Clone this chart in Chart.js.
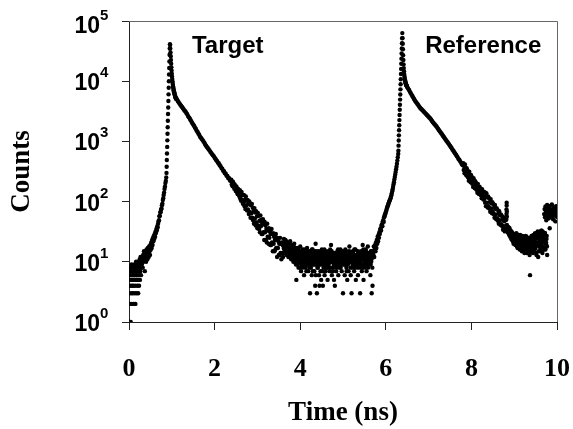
<!DOCTYPE html>
<html>
<head>
<meta charset="utf-8">
<script src="https://cdn.jsdelivr.net/npm/chart.js@4.4.0/dist/chart.umd.min.js"></script>
<style>
  html, body { margin: 0; padding: 0; background: #fff; }
</style>
</head>
<body>
<canvas id="chart" width="573" height="429"></canvas>
<script>
// TCSPC histogram: [time (ns), counts]
const preRise = [
  [0.000,3],[0.005,6],[0.010,1],[0.015,5],[0.020,2],[0.025,7],[0.030,4],[0.035,8],[0.040,1],[0.045,6],
  [0.050,3],[0.055,5],[0.060,9],[0.065,2],[0.070,4],[0.075,7],[0.080,6],[0.085,3],[0.090,5],[0.095,8],
  [0.100,4],[0.105,6],[0.110,2],[0.115,7],[0.120,5],[0.125,9],[0.130,3],[0.135,6],[0.140,8],[0.145,4],
  [0.150,2],[0.155,7],[0.160,5],[0.165,10],[0.170,6],[0.175,3],[0.180,8],[0.185,5],[0.190,7],[0.195,4],
  [0.200,6],[0.205,9],[0.210,5],[0.215,3],[0.220,8],[0.225,7],[0.230,10],[0.235,4],[0.240,6],[0.245,9],
  [0.250,11],[0.255,5],[0.260,8],[0.265,7],[0.270,12],[0.275,9],[0.280,6],[0.285,10],[0.290,8],[0.295,11]
];
const targetRise = [
  [0.30,9],[0.31,12],[0.32,8],[0.33,13],[0.34,10],[0.35,15],[0.36,11],[0.37,7],[0.38,14],[0.39,12],
  [0.40,10],[0.41,16],[0.42,13],[0.43,11],[0.44,17],[0.45,14],[0.46,12],[0.47,18],[0.48,15],[0.49,13],
  [0.50,19],[0.51,16],[0.52,21],[0.53,17],[0.54,23],[0.55,19],[0.56,25],[0.57,22],[0.58,27],[0.59,24],
  [0.60,29],[0.61,26],[0.62,32],[0.63,30],[0.64,35],[0.65,33],[0.66,39],[0.67,37],[0.68,43],[0.69,47],
  [0.70,49],[0.71,57],[0.72,58],[0.73,66],[0.74,67],[0.75,74],[0.76,77],[0.77,87],[0.78,92],[0.79,106],
  [0.80,114],[0.81,129],[0.82,141],[0.83,162],[0.84,179],[0.85,203],[0.86,220],[0.87,251]
];
const targetEdge = [
  [0.876,300],[0.880,380],[0.884,490],[0.888,630],[0.892,810],[0.896,1040],[0.900,1340],[0.904,1720],
  [0.908,2200],[0.912,2850],[0.916,3650],[0.920,4700],[0.924,6050],[0.928,7800],[0.932,10000],
  [0.936,12900],[0.940,16600],[0.944,21300],[0.948,27500],[0.952,35000],[0.956,41000]
];
const targetPeak = [
  [0.960,40000],[0.965,35000],[0.970,30000],[0.975,26000],[0.980,22500],[0.985,19500],[0.990,17000],
  [0.995,15000],[1.000,13300],[1.005,12000],[1.010,10900],[1.015,10000],[1.020,9300],[1.025,8700],
  [1.030,8200],[1.035,7800],[1.040,7400],[1.045,7100],[1.050,6800],[1.055,6550],[1.060,6300],
  [1.065,6100],[1.070,5900],[1.075,5750],[1.080,5600],[1.085,5450],[1.090,5300],[1.095,5200],[1.100,5050]
];
const targetDecay = [
  [1.12,5010],[1.14,4680],[1.16,4470],[1.18,4270],[1.20,4070],[1.22,3890],[1.24,3720],[1.26,3550],[1.28,3390],[1.30,3240],
  [1.32,3130],[1.34,2950],[1.36,2820],[1.38,2630],[1.40,2510],[1.42,2400],[1.44,2240],[1.46,2140],[1.48,2000],[1.50,1905],
  [1.52,1820],[1.54,1700],[1.56,1620],[1.58,1510],[1.60,1445],[1.62,1350],[1.64,1290],[1.66,1200],[1.68,1150],[1.70,1100],
  [1.72,1050],[1.74,1000],[1.76,955],[1.78,890],[1.80,850],[1.82,810],[1.84,775],[1.86,740],[1.88,710],[1.90,675],
  [1.92,645],[1.94,615],[1.96,590],[1.98,570],[2.00,535],[2.02,515],[2.04,485],[2.06,470],[2.08,441],[2.10,430],
  [2.12,402],[2.14,388],[2.16,360],[2.18,352],[2.20,325],[2.22,320],[2.24,296],[2.26,291],[2.28,268],[2.30,266],
  [2.32,245],[2.34,244],[2.36,224],[2.38,222]
];
const targetTail = [
  [2.39,231],[2.40,192],[2.41,210],[2.42,180],[2.43,214],[2.44,180],[2.45,197],[2.46,164],[2.47,192],[2.48,162],
  [2.49,177],[2.50,149],[2.51,178],[2.52,145],[2.53,164],[2.54,133],[2.55,163],[2.56,135],[2.57,148],[2.58,121],
  [2.59,155],[2.60,112],[2.61,135],[2.62,103],[2.63,145],[2.64,108],[2.65,129],[2.66,92],[2.67,129],[2.68,97],
  [2.69,128],[2.70,84],[2.71,107],[2.72,75],[2.73,122],[2.74,86],[2.75,104],[2.76,71],[2.77,107],[2.78,74],
  [2.79,94],[2.80,62],[2.81,101],[2.82,67],[2.83,89],[2.84,54],[2.85,88],[2.86,64],[2.87,91],[2.88,54],
  [2.89,79],[2.90,49],[2.91,69],[2.92,43],[2.93,78],[2.94,52],[2.95,66],[2.96,40],[2.97,69],[2.98,45],
  [2.99,57],[3.00,36],[3.01,65],[3.02,40],[3.03,58],[3.04,35],[3.05,48],[3.06,31],[3.07,59],[3.08,39],
  [3.09,50],[3.10,29],[3.11,44],[3.12,29],[3.13,51],[3.14,31],[3.15,42],[3.16,23],[3.17,46],[3.18,31],
  [3.19,40],[3.20,23],[3.21,35],[3.22,21],[3.23,43],[3.24,26],[3.25,33],[3.26,20],[3.27,36],[3.28,25],
  [3.29,32],[3.30,19],[3.31,29],[3.32,19],[3.33,35],[3.34,21],[3.35,29],[3.36,15],[3.37,30],[3.38,20],
  [3.39,26],[3.40,15],[3.41,23],[3.42,16],[3.43,29],[3.44,17],[3.45,24],[3.46,12],[3.47,25],[3.48,17],
  [3.49,22],[3.50,13],[3.51,20],[3.52,13],[3.53,25],[3.54,14],[3.55,20],[3.56,11],[3.57,21],[3.58,14],
  [3.59,19],[3.60,12]
];
const background = [
  [3.61,19],[3.62,24],[3.63,16],[3.64,21],[3.65,15],[3.66,18],[3.67,22],[3.68,14],[3.69,17],[3.70,20],
  [3.71,13],[3.72,17],[3.73,21],[3.74,15],[3.75,12],[3.76,18],[3.77,14],[3.78,16],[3.79,11],[3.80,19],
  [3.81,15],[3.82,12],[3.83,17],[3.84,10],[3.85,14],[3.86,20],[3.87,11],[3.88,16],[3.89,13],[3.90,9],
  [3.91,5],[3.92,14],[3.93,11],[3.94,17],[3.95,12],[3.96,8],[3.97,15],[3.98,10],[3.99,13],[4.00,18],
  [4.01,11],[4.02,7],[4.03,14],[4.04,10],[4.05,16],[4.06,12],[4.07,9],[4.08,13],[4.09,6],[4.10,15],
  [4.11,10],[4.12,12],[4.13,8],[4.14,14],[4.15,11],[4.16,17],[4.17,9],[4.18,12],[4.19,7],[4.20,13],
  [4.21,10],[4.22,15],[4.23,3],[4.24,11],[4.25,8],[4.26,13],[4.27,6],[4.28,12],[4.29,16],[4.30,9],
  [4.31,11],[4.32,14],[4.33,7],[4.34,10],[4.35,4],[4.36,20],[4.37,9],[4.38,15],[4.39,3],[4.40,11],
  [4.41,8],[4.42,13],[4.43,10],[4.44,6],[4.45,4],[4.46,12],[4.47,9],[4.48,14],[4.49,5],[4.50,11],
  [4.51,10],[4.52,7],[4.53,4],[4.54,13],[4.55,9],[4.56,12],[4.57,6],[4.58,11],[4.59,15],[4.60,8],
  [4.61,12],[4.62,9],[4.63,14],[4.64,5],[4.65,11],[4.66,8],[4.67,13],[4.68,10],[4.69,7],[4.70,16],
  [4.71,11],[4.72,19],[4.73,13],[4.74,6],[4.75,10],[4.76,14],[4.77,8],[4.78,12],[4.79,5],[4.80,11],
  [4.81,4],[4.82,10],[4.83,13],[4.84,7],[4.85,12],[4.86,9],[4.87,15],[4.88,11],[4.89,6],[4.90,10],
  [4.91,13],[4.92,8],[4.93,11],[4.94,16],[4.95,9],[4.96,12],[4.97,7],[4.98,10],[4.99,14],[5.00,3],
  [5.01,11],[5.02,9],[5.03,13],[5.04,6],[5.05,12],[5.06,10],[5.07,15],[5.08,8],[5.09,11],[5.10,5],
  [5.11,13],[5.12,10],[5.13,7],[5.14,12],[5.15,18],[5.16,14],[5.17,11],[5.18,6],[5.19,10],[5.20,3],
  [5.21,12],[5.22,8],[5.23,15],[5.24,10],[5.25,13],[5.26,7],[5.27,11],[5.28,9],[5.29,16],[5.30,5],
  [5.31,10],[5.32,13],[5.33,8],[5.34,12],[5.35,6],[5.36,14],[5.37,11],[5.38,9],[5.39,12],[5.40,3],
  [5.41,11],[5.42,15],[5.43,9],[5.44,7],[5.45,13],[5.46,19],[5.47,12],[5.48,5],[5.49,14],[5.50,8],
  [5.51,12],[5.52,9],[5.53,16],[5.54,11],[5.55,7],[5.56,13],[5.57,10],[5.58,18],[5.59,14],[5.60,11],
  [5.61,9],[5.62,13],[5.63,11],[5.64,6],[5.65,15],[5.66,10],[5.67,3],[5.68,12],[5.69,4],[5.70,14]
];
// second sweep of the flat region, half a channel over
const backgroundMid = [
  [3.615,17],[3.625,21],[3.635,14],[3.645,19],[3.655,23],[3.665,16],[3.675,18],[3.685,13],[3.695,20],[3.705,15],
  [3.715,16],[3.725,12],[3.735,19],[3.745,14],[3.755,17],[3.765,22],[3.775,13],[3.785,15],[3.795,18],[3.805,12],
  [3.815,13],[3.825,16],[3.835,11],[3.845,18],[3.855,12],[3.865,15],[3.875,10],[3.885,17],[3.895,14],[3.905,12],
  [3.915,11],[3.925,15],[3.935,9],[3.945,13],[3.955,16],[3.965,10],[3.975,12],[3.985,14],[3.995,8],[4.005,12],
  [4.015,13],[4.025,9],[4.035,12],[4.045,15],[4.055,10],[4.065,8],[4.075,14],[4.085,11],[4.095,16],[4.105,10],
  [4.115,9],[4.125,13],[4.135,11],[4.145,7],[4.155,15],[4.165,12],[4.175,10],[4.185,14],[4.195,9],[4.205,12],
  [4.215,12],[4.225,8],[4.235,14],[4.245,10],[4.255,13],[4.265,9],[4.275,16],[4.285,11],[4.295,7],[4.305,13],
  [4.315,10],[4.325,12],[4.335,9],[4.345,15],[4.355,11],[4.365,6],[4.375,13],[4.385,10],[4.395,14],[4.405,8],
  [4.415,12],[4.425,10],[4.435,15],[4.445,9],[4.455,13],[4.465,11],[4.475,7],[4.485,12],[4.495,10],[4.505,16],
  [4.515,9],[4.525,14],[4.535,11],[4.545,8],[4.555,12],[4.565,16],[4.575,10],[4.585,13],[4.595,7],[4.605,11],
  [4.615,13],[4.625,10],[4.635,8],[4.645,12],[4.655,15],[4.665,9],[4.675,11],[4.685,14],[4.695,10],[4.705,12],
  [4.715,8],[4.725,12],[4.735,15],[4.745,10],[4.755,13],[4.765,7],[4.775,11],[4.785,9],[4.795,14],[4.805,12],
  [4.815,11],[4.825,14],[4.835,9],[4.845,12],[4.855,8],[4.865,13],[4.875,10],[4.885,16],[4.895,12],[4.905,9],
  [4.915,10],[4.925,12],[4.935,14],[4.945,8],[4.955,13],[4.965,11],[4.975,9],[4.985,15],[4.995,10],[5.005,12],
  [5.015,14],[5.025,10],[5.035,12],[5.045,9],[5.055,16],[5.065,11],[5.075,13],[5.085,7],[5.095,12],[5.105,10],
  [5.115,9],[5.125,13],[5.135,11],[5.145,15],[5.155,10],[5.165,12],[5.175,8],[5.185,14],[5.195,11],[5.205,13],
  [5.215,11],[5.225,9],[5.235,14],[5.245,12],[5.255,10],[5.265,16],[5.275,8],[5.285,13],[5.295,11],[5.305,10],
  [5.315,13],[5.325,11],[5.335,9],[5.345,15],[5.355,12],[5.365,10],[5.375,14],[5.385,8],[5.395,11],[5.405,13],
  [5.415,10],[5.425,14],[5.435,12],[5.445,8],[5.455,13],[5.465,11],[5.475,16],[5.485,9],[5.495,12],[5.505,10],
  [5.515,12],[5.525,10],[5.535,15],[5.545,11],[5.555,9],[5.565,14],[5.575,12],[5.585,8],[5.595,13],[5.605,11],
  [5.615,10],[5.625,14],[5.635,12],[5.645,9],[5.655,13],[5.665,11],[5.675,15],[5.685,8],[5.695,12]
];
const refRise = [
  [5.71,13],[5.72,18],[5.73,12],[5.74,16],[5.75,19],[5.76,15],[5.77,21],[5.78,17],[5.79,23],[5.80,20],
  [5.81,26],[5.82,22],[5.83,28],[5.84,25],[5.85,31],[5.86,29],[5.87,34],[5.88,36],[5.89,33],[5.90,40],
  [5.91,42],[5.92,39],[5.93,47],[5.94,49],[5.95,46],[5.96,55],[5.97,57],[5.98,61],[5.99,63],[6.00,67],
  [6.01,70],[6.02,75],[6.03,79],[6.04,82],[6.05,87],[6.06,91],[6.07,96],[6.08,100],[6.09,104],[6.10,108],
  [6.11,114],[6.12,120],[6.13,128],[6.14,137],[6.15,148],[6.16,160],[6.17,175],[6.18,192],[6.19,210],[6.20,232],
  [6.21,256],[6.22,282],[6.23,310],[6.24,345],[6.25,380],[6.26,425],[6.27,480],[6.28,545],[6.29,620]
];
const refEdge = [
  [6.294,700],[6.298,850],[6.302,1035],[6.306,1260],[6.310,1530],[6.314,1860],[6.318,2260],[6.322,2750],
  [6.326,3350],[6.330,4070],[6.334,4950],[6.338,6020],[6.342,7320],[6.346,8900],[6.350,10800],[6.354,13200],
  [6.358,16000],[6.362,19500],[6.366,23700],[6.370,28800],[6.374,35000],[6.378,42600],[6.382,51800],[6.386,63000]
];
const refPeak = [
  [6.392,52000],[6.396,42000],[6.400,34000],[6.405,27000],[6.410,22500],[6.415,19000],[6.420,16500],
  [6.425,14600],[6.430,13200],[6.435,12200],[6.440,11400],[6.445,10800],[6.450,10300],[6.455,9900],
  [6.460,9550],[6.465,9250],[6.470,9000],[6.475,8800],[6.480,8600],[6.485,8450],[6.490,8300],[6.495,8150],[6.500,8000]
];
const refDecay = [
  [6.52,7590],[6.54,7240],[6.56,6760],[6.58,6390],[6.60,6030],[6.62,5690],[6.64,5370],[6.66,5070],[6.68,4790],[6.70,4570],
  [6.72,4370],[6.74,4170],[6.76,3980],[6.78,3800],[6.80,3630],[6.82,3500],[6.84,3390],[6.86,3280],[6.88,3160],[6.90,3060],
  [6.92,2950],[6.94,2850],[6.96,2750],[6.98,2660],[7.00,2570],[7.02,2480],[7.04,2400],[7.06,2290],[7.08,2190],[7.10,2090],
  [7.12,2000],[7.14,1930],[7.16,1860],[7.18,1780],[7.20,1700],[7.22,1620],[7.24,1550],[7.26,1480],[7.28,1410],[7.30,1350],
  [7.32,1290],[7.34,1230],[7.36,1175],[7.38,1120],[7.40,1070],[7.42,1020],[7.44,980],[7.46,935],[7.48,890],[7.50,850],
  [7.52,810],[7.54,770],[7.56,725],[7.58,700],[7.60,660],[7.62,630],[7.64,600],[7.66,570],[7.68,540],[7.70,510],
  [7.72,490],[7.74,465],[7.76,440],[7.78,415],[7.80,400]
];
const refTail = [
  [7.81,436],[7.82,334],[7.83,389],[7.84,295],[7.85,413],[7.86,317],[7.87,359],[7.88,275],[7.89,359],[7.90,272],
  [7.91,329],[7.92,253],[7.93,293],[7.94,223],[7.95,313],[7.96,240],[7.97,272],[7.98,209],[7.99,276],[8.00,211],
  [8.01,256],[8.02,197],[8.03,229],[8.04,175],[8.05,245],[8.06,190],[8.07,215],[8.08,166],[8.09,219],[8.10,167],
  [8.11,204],[8.12,157],[8.13,183],[8.14,140],[8.15,197],[8.16,153],[8.17,173],[8.18,133],[8.19,177],[8.20,136],
  [8.21,166],[8.22,128],[8.23,149],[8.24,114],[8.25,160],[8.26,124],[8.27,140],[8.28,108],[8.29,144],[8.30,110],
  [8.31,143],[8.32,96],[8.33,123],[8.34,84],[8.35,138],[8.36,96],[8.37,118],[8.38,80],[8.39,122],[8.40,84],
  [8.41,115],[8.42,77],[8.43,99],[8.44,68],[8.45,110],[8.46,77],[8.47,94],[8.48,64],[8.49,98],[8.50,67],
  [8.51,91],[8.52,62],[8.53,79],[8.54,54],[8.55,88],[8.56,61],[8.57,75],[8.58,51],[8.59,78],[8.60,53],
  [8.61,73],[8.62,48],[8.63,63],[8.64,43],[8.65,69],[8.66,49],[8.67,59],[8.68,41],[8.69,61],[8.70,42],
  [8.71,58],[8.72,39],[8.73,50],[8.74,34],[8.75,55],[8.76,39],[8.77,47],[8.78,32],[8.79,50],[8.80,34]
];
const refGlitch = [
  [8.815,50],[8.820,62],[8.820,74],[8.824,86],[8.824,96],[8.828,68],[8.828,56]
];
const refFloor = [
  [8.81,39],[8.82,34],[8.83,41],[8.84,36],[8.85,31],[8.86,38],[8.87,33],[8.88,29],[8.89,36],[8.90,31],
  [8.91,27],[8.92,33],[8.93,29],[8.94,24],[8.95,31],[8.96,26],[8.97,22],[8.98,29],[8.99,25],[9.00,21],
  [9.01,28],[9.02,23],[9.03,19],[9.04,26],[9.05,30],[9.06,21],[9.07,25],[9.08,17],[9.09,24],[9.10,27],
  [9.11,20],[9.12,24],[9.13,16],[9.14,28],[9.15,22],[9.16,19],[9.17,25],[9.18,15],[9.19,23],[9.20,21],
  [9.21,18],[9.22,26],[9.23,22],[9.24,14],[9.25,24],[9.26,20],[9.27,27],[9.28,17],[9.29,21],[9.30,15],
  [9.31,23],[9.32,19],[9.33,25],[9.34,16],[9.35,22],[9.36,13],[9.37,6],[9.38,24],[9.39,18],[9.40,21],
  [9.41,26],[9.42,17],[9.43,22],[9.44,14],[9.45,28],[9.46,20],[9.47,24],[9.48,16],[9.49,30],[9.50,19],
  [9.51,25],[9.52,13],[9.53,29],[9.54,21],[9.55,32],[9.56,12],[9.57,27],[9.58,18],[9.59,31],[9.60,22],
  [9.61,26],[9.62,15],[9.63,33],[9.64,20],[9.65,29],[9.66,14],[9.67,24],[9.68,31],[9.69,17],[9.70,28],
  [9.71,22],[9.72,30],[9.73,16],[9.74,25],[9.75,19],[9.76,27],[9.77,13]
];
const refFloorMid = [
  [8.855,35],[8.865,30],[8.875,37],[8.885,28],[8.895,33],[8.905,26],[8.915,31],[8.925,27],[8.935,24],[8.945,29],
  [8.955,23],[8.965,28],[8.975,25],[8.985,20],[8.995,26],[9.005,22],[9.015,27],[9.025,24],[9.035,19],[9.045,25],
  [9.055,22],[9.065,18],[9.075,26],[9.085,23],[9.095,20],[9.105,28],[9.115,17],[9.125,24],[9.135,21],[9.145,19],
  [9.155,25],[9.165,20],[9.175,16],[9.185,23],[9.195,27],[9.205,18],[9.215,22],[9.225,15],[9.235,24],[9.245,20],
  [9.255,17],[9.265,23],[9.275,19],[9.285,26],[9.295,14],[9.305,21],[9.315,18],[9.325,24],[9.335,20],[9.345,16],
  [9.355,22],[9.365,19],[9.375,25],[9.385,15],[9.395,21],[9.405,27],[9.415,18],[9.425,23],[9.435,16],[9.445,20],
  [9.455,26],[9.465,18],[9.475,22],[9.485,29],[9.495,17],[9.505,24],[9.515,14],[9.525,27],[9.535,20],[9.545,31],
  [9.555,19],[9.565,25],[9.575,15],[9.585,28],[9.595,22],[9.605,30],[9.615,17],[9.625,26],[9.635,21],[9.645,33],
  [9.655,18],[9.665,27],[9.675,23],[9.685,29],[9.695,16],[9.705,25],[9.715,30],[9.725,20],[9.735,26],[9.745,21],
  [9.755,24],[9.765,18]
];
const lateStep = [
  [9.70,62],[9.71,75],[9.72,55],[9.73,83],[9.74,68],[9.75,49],[9.76,71],[9.77,88],[9.78,58],[9.79,66],
  [9.80,79],[9.81,53],[9.82,69],[9.83,36],[9.84,85],[9.85,61],[9.86,74],[9.87,57],[9.88,90],[9.89,64],
  [9.90,72],[9.91,51],[9.92,81],[9.93,59],[9.94,67],[9.95,77],[9.96,47],[9.97,70],[9.98,84],[9.99,56],[10.00,63]
];

const xTicks = [0, 2, 4, 6, 8, 10];
const yPowers = [0, 1, 2, 3, 4, 5];
const panelNames = ['Target', 'Reference'];
const panelNameTime = [1.47, 6.92];
const panelNameCounts = [29500, 29500];

const points = [preRise, targetRise, targetEdge, targetPeak, targetDecay, targetTail, background, backgroundMid,
  refRise, refEdge, refPeak, refDecay, refTail, refGlitch, refFloor, refFloorMid, lateStep]
  .flat().map(([t, n]) => ({ x: t, y: n }));

const serif = 'Liberation Serif, Times New Roman, serif';
const sans = 'Liberation Sans, Arial, sans-serif';

const decorations = {
  id: 'decorations',
  afterDraw(chart) {
    const ctx = chart.ctx;
    const area = chart.chartArea;
    const xs = chart.scales.x;
    const ys = chart.scales.y;
    ctx.save();
    // top and right edges of the frame
    ctx.strokeStyle = '#666';
    ctx.lineWidth = 1;
    ctx.beginPath();
    ctx.moveTo(area.left, area.top + 0.5);
    ctx.lineTo(area.right + 0.5, area.top + 0.5);
    ctx.lineTo(area.right + 0.5, area.bottom);
    ctx.stroke();

    // 10^n labels
    ctx.fillStyle = '#000';
    ctx.textBaseline = 'alphabetic';
    const labelRight = ys.right - 29;
    yPowers.forEach(p => {
      const py = ys.getPixelForValue(Math.pow(10, p));
      const drop = p === 5 ? 3 : 0;   // top label sits a little low in the original
      ctx.font = 'bold 23px ' + sans;
      ctx.textAlign = 'right';
      ctx.fillText('10', labelRight, py + 9 + drop);
      ctx.font = 'bold 15px ' + sans;
      ctx.textAlign = 'left';
      ctx.fillText(String(p), labelRight, py - 4 + drop);
    });

    // panel names
    ctx.font = 'bold 24px ' + sans;
    ctx.textAlign = 'left';
    panelNames.forEach((name, i) => {
      ctx.fillText(name, xs.getPixelForValue(panelNameTime[i]), ys.getPixelForValue(panelNameCounts[i]));
    });
    ctx.restore();
  }
};

new Chart(document.getElementById('chart'), {
  type: 'scatter',
  data: {
    datasets: [{
      data: points,
      pointRadius: 2.2,
      pointHoverRadius: 2.2,
      pointBackgroundColor: '#000',
      pointBorderWidth: 0
    }]
  },
  options: {
    responsive: false,
    animation: false,
    devicePixelRatio: 1,
    events: [],
    layout: { padding: { top: 21, right: 16, left: 0, bottom: 0 } },
    plugins: { legend: { display: false }, tooltip: { enabled: false } },
    scales: {
      x: {
        type: 'linear',
        min: 0,
        max: 10,
        afterBuildTicks: s => { s.ticks = xTicks.map(v => ({ value: v })); },
        afterFit: s => { s.height = 107; s.paddingLeft = 0; s.paddingRight = 0; },
        ticks: { color: '#000', padding: 24, font: { family: serif, weight: 'bold', size: 26 } },
        grid: { drawOnChartArea: false, drawTicks: true, tickLength: 8, color: '#222' },
        border: { color: '#222' },
        title: { display: true, text: 'Time (ns)', color: '#000', padding: 0,
                 font: { family: serif, weight: 'bold', size: 27 } }
      },
      y: {
        type: 'logarithmic',
        min: 1,
        max: 100000,
        afterBuildTicks: s => { s.ticks = yPowers.map(p => ({ value: Math.pow(10, p) })); },
        afterFit: s => { s.width = 129; s.paddingTop = 0; s.paddingBottom = 0; },
        ticks: { color: 'rgba(0,0,0,0)' },
        grid: { drawOnChartArea: false, drawTicks: true, tickLength: 7, color: '#222' },
        border: { color: '#222' },
        title: { display: true, text: 'Counts', color: '#000', padding: { top: 6, bottom: 0 },
                 font: { family: serif, weight: 'bold', size: 27 } }
      }
    }
  },
  plugins: [decorations]
});
</script>
</body>
</html>
